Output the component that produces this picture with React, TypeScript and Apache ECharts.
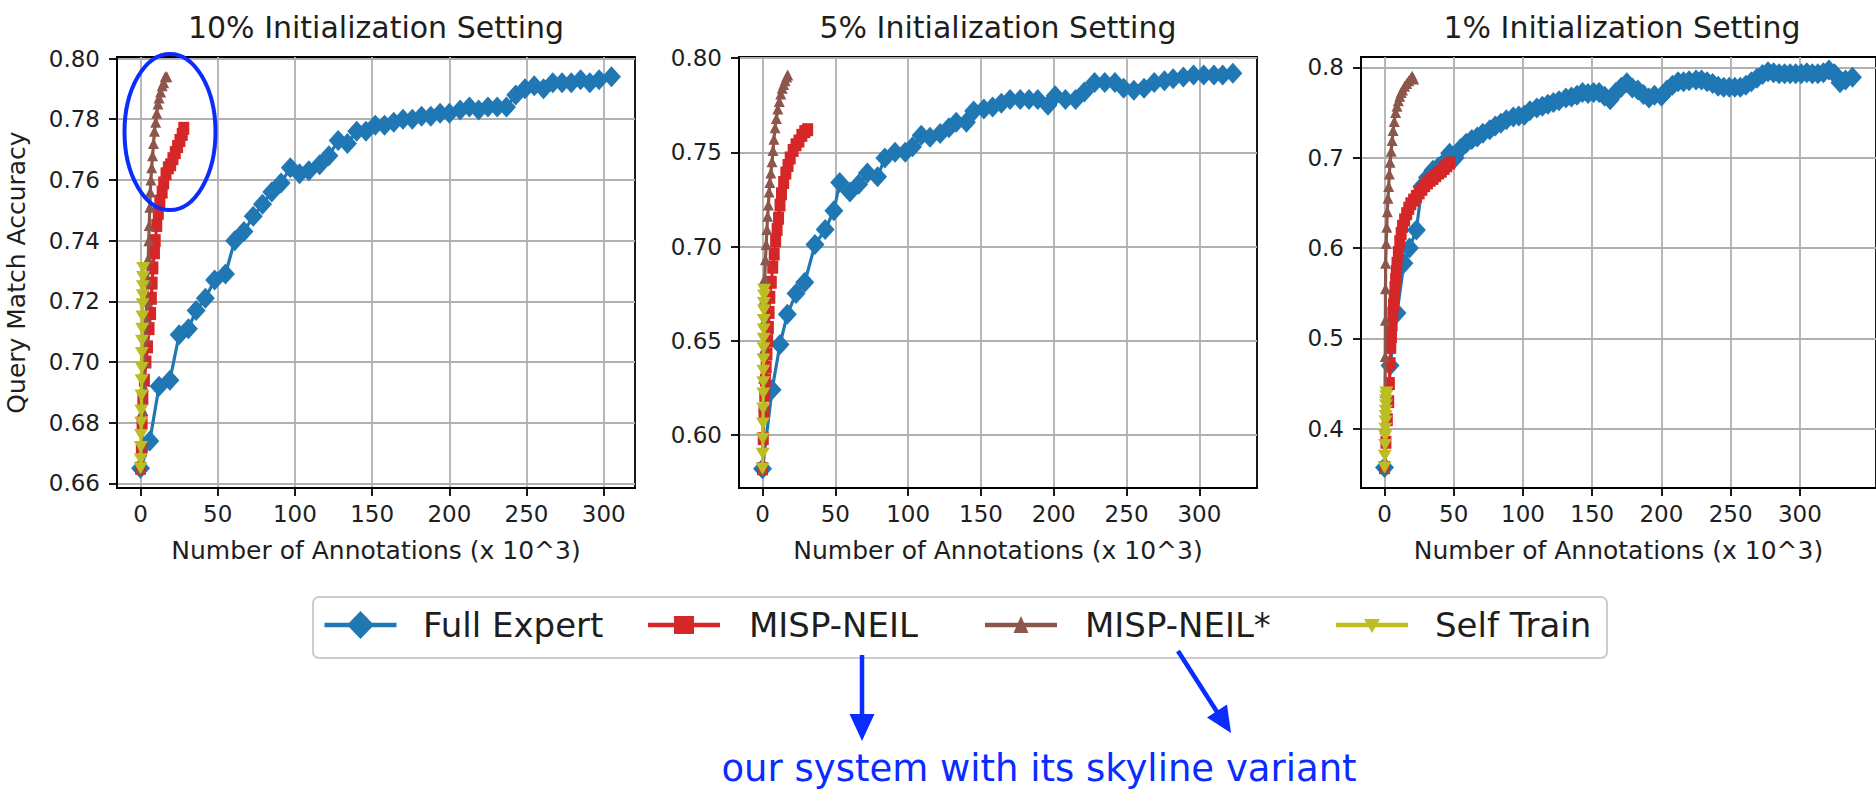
import React, { useEffect, useRef } from "react";
import * as echarts from "echarts";

type Pt = [number, number];

const panelTitles = ["10% Initialization Setting", "5% Initialization Setting", "1% Initialization Setting"];
const seriesNames = ["Full Expert", "MISP-NEIL", "MISP-NEIL*", "Self Train"];
const seriesColors = ["#1f77b4", "#d62728", "#8c564b", "#bcbd22"];
const xLabel = "Number of Annotations (x 10^3)";
const yLabel = "Query Match Accuracy";
const annotationText = "our system with its skyline variant";

const xTicks = [0, 50, 100, 150, 200, 250, 300];
const yTicks10 = [0.66, 0.68, 0.7, 0.72, 0.74, 0.76, 0.78, 0.8];
const yTicks5 = [0.6, 0.65, 0.7, 0.75, 0.8];
const yTicks1 = [0.4, 0.5, 0.6, 0.7, 0.8];

// ---------- 10% setting ----------
const fullExpert10: Pt[] = [
  [0, 0.665], [6, 0.674], [12, 0.692], [19, 0.694], [25, 0.709], [31, 0.711], [36, 0.717], [42, 0.721],
  [48, 0.727], [55, 0.729], [61, 0.74], [67, 0.743], [73, 0.748], [79, 0.752], [85, 0.756], [91, 0.759],
  [97, 0.764], [103, 0.762], [109, 0.763], [116, 0.765], [122, 0.768], [128, 0.773], [134, 0.772],
  [140, 0.776], [146, 0.776], [152, 0.778], [158, 0.778], [164, 0.779], [170, 0.78], [176, 0.78],
  [182, 0.781], [188, 0.781], [194, 0.782], [200, 0.782], [207, 0.783], [213, 0.784], [219, 0.783],
  [225, 0.784], [231, 0.784], [237, 0.784], [243, 0.788], [249, 0.79], [255, 0.791], [261, 0.79],
  [267, 0.792], [273, 0.792], [279, 0.792], [285, 0.793], [291, 0.792], [297, 0.793], [305, 0.794],
];
const mispNeil10: Pt[] = [
  [0, 0.665], [0.5, 0.671], [1, 0.68], [1.5, 0.688], [2.5, 0.694], [3.5, 0.7], [4.5, 0.705], [5.5, 0.711],
  [6.5, 0.716], [7, 0.721], [7.5, 0.726], [8, 0.731], [9, 0.736], [9.5, 0.74], [10.5, 0.745], [11.5, 0.749],
  [12.5, 0.753], [14, 0.756], [15, 0.759], [16.5, 0.762], [18, 0.764], [19.5, 0.765], [21, 0.767],
  [22.5, 0.769], [24, 0.771], [25.5, 0.773], [27, 0.775], [28, 0.777],
];
const mispNeilStar10: Pt[] = [
  [0, 0.665], [1, 0.673], [1.5, 0.684], [2, 0.692], [2.5, 0.7], [3, 0.708], [3.5, 0.714], [4, 0.72],
  [4.5, 0.727], [5, 0.734], [5.3, 0.74], [5.6, 0.745], [6, 0.751], [6.3, 0.756], [6.7, 0.76], [7.2, 0.764],
  [7.8, 0.768], [8.4, 0.772], [9, 0.776], [9.8, 0.779], [10.5, 0.782], [11.3, 0.785], [12, 0.787],
  [13, 0.789], [14, 0.791], [15, 0.792], [16, 0.794], [17, 0.794],
];
const selfTrain10: Pt[] = [
  [0, 0.665], [0.1, 0.668], [0.2, 0.672], [0.3, 0.676], [0.4, 0.68], [0.5, 0.684], [0.6, 0.689],
  [0.7, 0.694], [0.8, 0.698], [0.9, 0.703], [1.0, 0.707], [1.1, 0.711], [1.2, 0.715], [1.3, 0.719],
  [1.4, 0.722], [1.5, 0.725], [1.6, 0.728], [1.7, 0.731],
];

// ---------- 5% setting ----------
const fullExpert5: Pt[] = [
  [0, 0.582], [6.5, 0.624], [12, 0.648], [17, 0.664], [23, 0.675], [29, 0.681], [36, 0.701], [43, 0.709],
  [49, 0.719], [53, 0.734], [60, 0.729], [66, 0.733], [72, 0.739], [79, 0.737], [84, 0.747], [91, 0.75],
  [98, 0.75], [103, 0.753], [109, 0.759], [115, 0.758], [122, 0.76], [128, 0.763], [133, 0.766],
  [140, 0.766], [145, 0.772], [152, 0.773], [158, 0.774], [164, 0.776], [170, 0.778], [177, 0.778],
  [183, 0.778], [189, 0.778], [196, 0.775], [201, 0.78], [208, 0.778], [215, 0.778], [221, 0.782],
  [228, 0.787], [235, 0.787], [242, 0.787], [248, 0.784], [255, 0.783], [262, 0.784], [269, 0.787],
  [276, 0.788], [282, 0.789], [289, 0.79], [296, 0.791], [303, 0.791], [310, 0.791], [316, 0.791],
  [323, 0.792],
];
const mispNeil5: Pt[] = [
  [0, 0.582], [0.5, 0.598], [1, 0.612], [1.5, 0.621], [2, 0.629], [2.5, 0.636], [3, 0.643], [3.5, 0.65],
  [4, 0.657], [4.5, 0.665], [5, 0.673], [6, 0.681], [7, 0.689], [8, 0.696], [9, 0.703], [10, 0.709],
  [11, 0.715], [12, 0.722], [13, 0.728], [14.5, 0.734], [16, 0.739], [17.5, 0.743], [19, 0.747],
  [21, 0.751], [23, 0.754], [25, 0.756], [27, 0.759], [29, 0.761], [31, 0.762],
];
const mispNeilStar5: Pt[] = [
  [0, 0.582], [0.3, 0.6], [0.5, 0.615], [0.7, 0.63], [0.9, 0.645], [1, 0.66], [1.2, 0.672], [1.5, 0.683],
  [2, 0.693], [2.5, 0.701], [3, 0.709], [3.5, 0.716], [4, 0.722], [4.5, 0.729], [5, 0.734], [5.7, 0.739],
  [6.5, 0.745], [7.2, 0.751], [7.8, 0.757], [8.6, 0.763], [9.5, 0.768], [10.5, 0.773], [11.5, 0.777],
  [12.5, 0.781], [13.5, 0.784], [14.5, 0.786], [15.5, 0.788], [16.5, 0.79], [17.3, 0.791],
];
const selfTrain5: Pt[] = [
  [0, 0.582], [0.1, 0.59], [0.2, 0.598], [0.3, 0.606], [0.4, 0.614], [0.5, 0.622], [0.55, 0.628],
  [0.6, 0.634], [0.65, 0.64], [0.7, 0.646], [0.75, 0.651], [0.8, 0.656], [0.85, 0.661], [0.9, 0.666],
  [0.95, 0.67], [1.0, 0.674], [1.05, 0.677],
];

// ---------- 1% setting ----------
const fullExpert1: Pt[] = [
  [0, 0.357], [4, 0.47], [9, 0.528], [14, 0.583], [18, 0.6], [23, 0.62], [27, 0.668], [31, 0.678],
  [35, 0.686], [39, 0.69], [43, 0.695], [47, 0.705], [51, 0.7], [55, 0.71], [59, 0.716], [63, 0.72],
  [67, 0.723], [71, 0.727], [76, 0.731], [80, 0.735], [84, 0.738], [88, 0.742], [93, 0.745], [97, 0.746],
  [101, 0.747], [105, 0.752], [110, 0.755], [114, 0.757], [118, 0.759], [122, 0.761], [126, 0.763],
  [131, 0.766], [135, 0.767], [139, 0.769], [143, 0.772], [147, 0.771], [151, 0.772], [155, 0.772],
  [159, 0.768], [163, 0.764], [167, 0.772], [171, 0.778], [175, 0.783], [179, 0.777], [183, 0.775],
  [187, 0.77], [191, 0.766], [195, 0.769], [200, 0.768], [204, 0.775], [208, 0.78], [212, 0.784],
  [216, 0.784], [220, 0.785], [225, 0.786], [229, 0.786], [233, 0.784], [237, 0.782], [241, 0.779],
  [245, 0.778], [249, 0.778], [253, 0.778], [257, 0.778], [261, 0.78], [265, 0.784], [269, 0.788],
  [273, 0.792], [277, 0.795], [281, 0.794], [285, 0.793], [289, 0.793], [293, 0.793], [297, 0.793],
  [301, 0.793], [305, 0.794], [309, 0.793], [313, 0.793], [317, 0.794], [321, 0.797], [325, 0.793],
  [329, 0.783], [333, 0.786], [338, 0.789],
];
const mispNeil1: Pt[] = [
  [0, 0.357], [1, 0.385], [2, 0.41], [3, 0.43], [3.5, 0.45], [4, 0.472], [4.5, 0.49], [5, 0.502],
  [5.5, 0.515], [6, 0.528], [6.5, 0.537], [7, 0.546], [7.5, 0.556], [8, 0.565], [8.5, 0.574], [9, 0.583],
  [10, 0.595], [11, 0.607], [12, 0.616], [13, 0.624], [14.5, 0.631], [16, 0.638], [17.5, 0.644],
  [19, 0.649], [21, 0.653], [23, 0.657], [25, 0.661], [27, 0.665], [29, 0.669], [31, 0.672], [33, 0.675],
  [35, 0.677], [37, 0.68], [39, 0.683], [41, 0.685], [43, 0.688], [45, 0.691], [47, 0.694],
];
const mispNeilStar1: Pt[] = [
  [0, 0.357], [0.2, 0.4], [0.4, 0.44], [0.5, 0.48], [0.6, 0.52], [0.7, 0.555], [0.8, 0.583], [1.2, 0.605],
  [1.6, 0.623], [2, 0.64], [2.5, 0.655], [3, 0.668], [3.5, 0.682], [4, 0.695], [4.8, 0.707], [5.5, 0.719],
  [6.2, 0.73], [7, 0.74], [8, 0.75], [9, 0.757], [10, 0.763], [11, 0.768], [12, 0.772], [13, 0.775],
  [14.5, 0.779], [16, 0.782], [17.5, 0.785], [19, 0.788], [20, 0.79], [21, 0.787],
];
const selfTrain1: Pt[] = [
  [0, 0.357], [0.2, 0.37], [0.4, 0.382], [0.5, 0.392], [0.6, 0.4], [0.7, 0.408], [0.8, 0.414],
  [0.9, 0.42], [1, 0.426], [1.1, 0.431], [1.2, 0.436], [1.3, 0.44],
];

const panelData: Pt[][][] = [
  [fullExpert10, mispNeil10, mispNeilStar10, selfTrain10],
  [fullExpert5, mispNeil5, mispNeilStar5, selfTrain5],
  [fullExpert1, mispNeil1, mispNeilStar1, selfTrain1],
];
const panelYTicks = [yTicks10, yTicks5, yTicks1];
const panelYDecimals = [2, 2, 1];

// layout (pixels)
const gridLeft = [117, 739, 1361];
const gridWidth = [518, 518, 522];
const gridTop = 57;
const gridHeight = 431;
const xRanges = [[-15.25, 320.25], [-16.17, 339.57], [-17, 355]];
const yRanges = [[0.6585, 0.8005], [0.5718, 0.8006], [0.3344, 0.8114]];

const FONT = "DejaVu Sans";
const TXT = "#1e1e1e";
const ANN = "#0a2cff";

const symbols = ["diamond", "rect", "triangle", "triangle"];
const symbolSizes: (number | number[])[] = [[19, 21], [11, 13], [11, 11], [14, 12]];
const symbolRotates = [0, 0, 0, 180];

function buildOption() {
  const grid: any[] = [];
  const xAxis: any[] = [];
  const yAxis: any[] = [];
  const series: any[] = [];
  const graphic: any[] = [];

  for (let p = 0; p < 3; p++) {
    grid.push({
      left: gridLeft[p], top: gridTop, width: gridWidth[p], height: gridHeight,
      show: true, borderColor: "#000", borderWidth: 1.8, backgroundColor: "transparent",
    });
    const dec = panelYDecimals[p];
    xAxis.push({
      type: "value", gridIndex: p, min: xRanges[p][0], max: xRanges[p][1], splitNumber: 7,
      name: xLabel, nameLocation: "middle", nameGap: 50,
      nameTextStyle: { fontSize: 25, color: TXT, fontFamily: FONT },
      axisLine: { show: true, onZero: false, lineStyle: { color: "#000", width: 1.8 } },
      axisTick: { show: true, length: 8, lineStyle: { color: "#000", width: 1.8 }, customValues: xTicks },
      axisLabel: {
        show: true, fontSize: 23, color: TXT, fontFamily: FONT, margin: 14, customValues: xTicks,
        formatter: (v: number) => (Math.abs(v / 50 - Math.round(v / 50)) < 1e-6 ? String(Math.round(v)) : ""),
      },
      splitLine: { show: true, lineStyle: { color: "#b0b0b0", width: 1.8 } },
    });
    const yt = panelYTicks[p];
    const step = yt[1] - yt[0];
    yAxis.push({
      type: "value", gridIndex: p, min: yRanges[p][0], max: yRanges[p][1],
      splitNumber: p === 0 ? 7 : 5,
      name: p === 0 ? yLabel : "", nameLocation: "middle", nameGap: 88, nameRotate: 90,
      nameTextStyle: { fontSize: 25, color: TXT, fontFamily: FONT },
      axisLine: { show: true, onZero: false, lineStyle: { color: "#000", width: 1.8 } },
      axisTick: { show: true, length: 8, lineStyle: { color: "#000", width: 1.8 }, customValues: yt },
      axisLabel: {
        show: true, fontSize: 23, color: TXT, fontFamily: FONT, margin: 17, customValues: yt,
        formatter: (v: number) =>
          Math.abs(v / step - Math.round(v / step)) < 1e-6 ? v.toFixed(dec) : "",
      },
      splitLine: { show: true, lineStyle: { color: "#b0b0b0", width: 1.8 } },
    });
    for (let s = 0; s < 4; s++) {
      series.push({
        type: "line", name: seriesNames[s], xAxisIndex: p, yAxisIndex: p,
        data: panelData[p][s],
        symbol: symbols[s], symbolSize: symbolSizes[s], symbolRotate: symbolRotates[s],
        showSymbol: true, showAllSymbol: true,
        lineStyle: { color: seriesColors[s], width: 3.2 },
        itemStyle: { color: seriesColors[s], borderWidth: 0 },
        emphasis: { disabled: true }, silent: true, z: 3 + s, clip: true,
      });
    }
    graphic.push({
      type: "text", x: gridLeft[p] + gridWidth[p] / 2, y: 27, z: 50,
      style: { text: panelTitles[p], fill: TXT, fontSize: 30, fontFamily: FONT, align: "center", verticalAlign: "middle" },
    });
  }

  // legend frame and entries (drawn as graphics to match placement)
  graphic.push({
    type: "rect", shape: { x: 313, y: 597, width: 1294, height: 61, r: 6 }, z: 40,
    style: { fill: "#fff", stroke: "#cccccc", lineWidth: 2 },
  });
  const legLineStart = [324.5, 648, 985, 1336];
  const legTextX = [423, 749, 1085, 1435];
  const legY = 625;
  for (let s = 0; s < 4; s++) {
    const x0 = legLineStart[s];
    const x1 = x0 + 72;
    const cx = (x0 + x1) / 2;
    graphic.push({
      type: "line", shape: { x1: x0, y1: legY, x2: x1, y2: legY }, z: 41,
      style: { stroke: seriesColors[s], lineWidth: 4.5 },
    });
    let pts: number[][] = [];
    if (s === 0) pts = [[cx, legY - 14], [cx + 13.5, legY], [cx, legY + 14], [cx - 13.5, legY]];
    if (s === 1) pts = [[cx - 10, legY - 9], [cx + 10, legY - 9], [cx + 10, legY + 9], [cx - 10, legY + 9]];
    if (s === 2) pts = [[cx, legY - 9], [cx + 7.5, legY + 8], [cx - 7.5, legY + 8]];
    if (s === 3) pts = [[cx - 8, legY - 6], [cx + 8, legY - 6], [cx, legY + 8]];
    graphic.push({ type: "polygon", shape: { points: pts }, z: 42, style: { fill: seriesColors[s] } });
    graphic.push({
      type: "text", x: legTextX[s], y: legY, z: 42,
      style: { text: seriesNames[s], fill: TXT, fontSize: 34, fontFamily: FONT, align: "left", verticalAlign: "middle" },
    });
  }

  // annotations
  graphic.push({
    type: "ellipse", shape: { cx: 170, cy: 132, rx: 45.5, ry: 78 }, z: 60,
    style: { fill: "none", stroke: ANN, lineWidth: 4 },
  });
  graphic.push({ type: "line", shape: { x1: 862, y1: 655, x2: 862, y2: 718 }, z: 60, style: { stroke: ANN, lineWidth: 4.5 } });
  graphic.push({ type: "polygon", shape: { points: [[849.5, 714], [874.5, 714], [862, 741]] }, z: 60, style: { fill: ANN } });
  graphic.push({ type: "line", shape: { x1: 1178, y1: 651, x2: 1219, y2: 715 }, z: 60, style: { stroke: ANN, lineWidth: 4.5 } });
  graphic.push({ type: "polygon", shape: { points: [[1227, 704.5], [1231, 733], [1207, 717.6]] }, z: 60, style: { fill: ANN } });
  graphic.push({
    type: "text", x: 1039, y: 768, z: 60,
    style: { text: annotationText, fill: ANN, fontSize: 37, fontFamily: FONT, align: "center", verticalAlign: "middle" },
  });

  return {
    animation: false,
    backgroundColor: "#ffffff",
    textStyle: { fontFamily: FONT },
    grid, xAxis, yAxis, series, graphic,
  };
}

export default function App() {
  const ref = useRef<HTMLDivElement>(null);
  useEffect(() => {
    document.body.style.margin = "0";
    if (!ref.current) return;
    const chart = echarts.init(ref.current, undefined, { renderer: "svg" });
    chart.setOption(buildOption() as any);
    return () => chart.dispose();
  }, []);
  return <div ref={ref} style={{ width: 1876, height: 792, background: "#fff" }} />;
}
